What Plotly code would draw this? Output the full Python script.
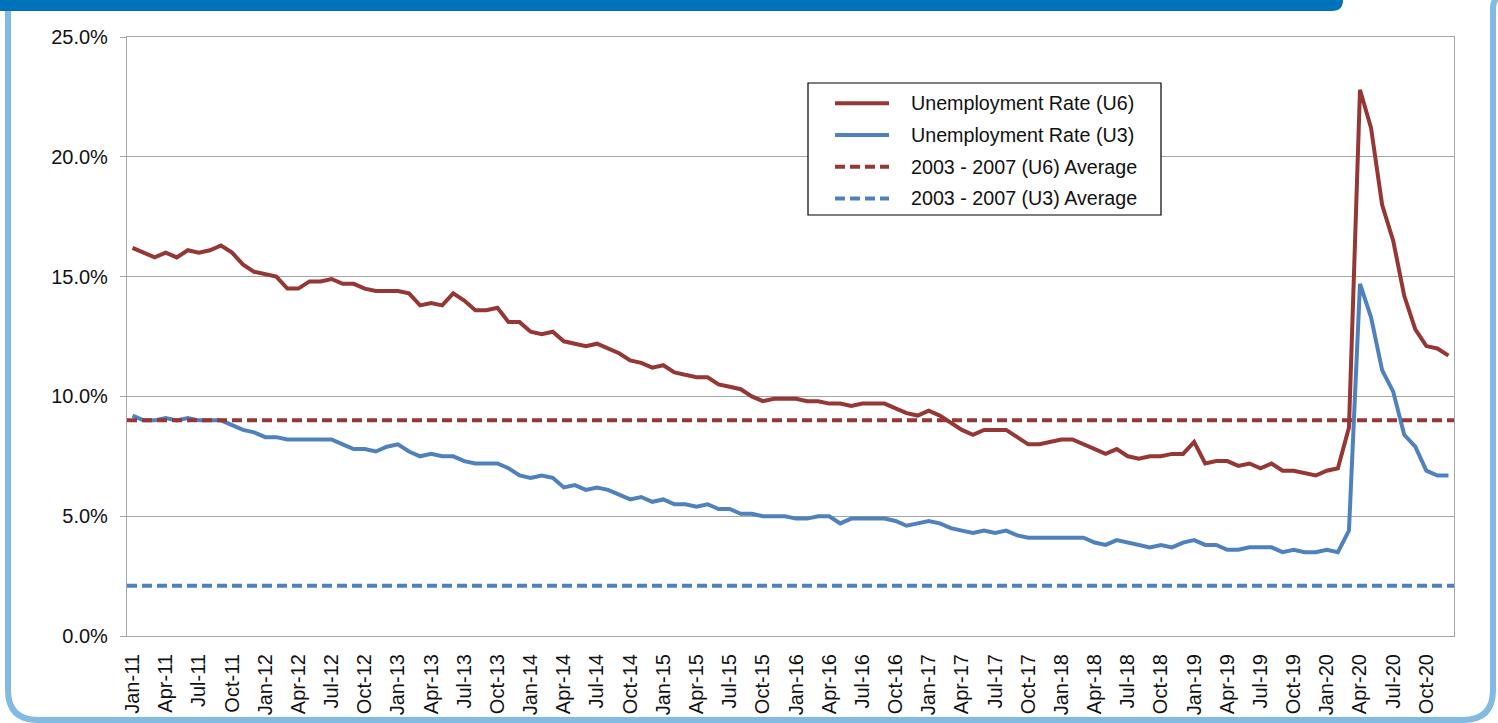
import plotly.graph_objects as go

# ---- data -------------------------------------------------------------
MONTHS = ["Jan", "Feb", "Mar", "Apr", "May", "Jun",
          "Jul", "Aug", "Sep", "Oct", "Nov", "Dec"]
YEARS = [11, 12, 13, 14, 15, 16, 17, 18, 19, 20]
categories = [f"{m}-{y}" for y in YEARS for m in MONTHS]
tick_labels = categories[::3]

u6_rate = [
    16.2, 16.0, 15.8, 16.0, 15.8, 16.1, 16.0, 16.1, 16.3, 16.0, 15.5, 15.2,  # 2011
    15.1, 15.0, 14.5, 14.5, 14.8, 14.8, 14.9, 14.7, 14.7, 14.5, 14.4, 14.4,  # 2012
    14.4, 14.3, 13.8, 13.9, 13.8, 14.3, 14.0, 13.6, 13.6, 13.7, 13.1, 13.1,  # 2013
    12.7, 12.6, 12.7, 12.3, 12.2, 12.1, 12.2, 12.0, 11.8, 11.5, 11.4, 11.2,  # 2014
    11.3, 11.0, 10.9, 10.8, 10.8, 10.5, 10.4, 10.3, 10.0, 9.8, 9.9, 9.9,     # 2015
    9.9, 9.8, 9.8, 9.7, 9.7, 9.6, 9.7, 9.7, 9.7, 9.5, 9.3, 9.2,              # 2016
    9.4, 9.2, 8.9, 8.6, 8.4, 8.6, 8.6, 8.6, 8.3, 8.0, 8.0, 8.1,              # 2017
    8.2, 8.2, 8.0, 7.8, 7.6, 7.8, 7.5, 7.4, 7.5, 7.5, 7.6, 7.6,              # 2018
    8.1, 7.2, 7.3, 7.3, 7.1, 7.2, 7.0, 7.2, 6.9, 6.9, 6.8, 6.7,              # 2019
    6.9, 7.0, 8.7, 22.8, 21.2, 18.0, 16.5, 14.2, 12.8, 12.1, 12.0, 11.7,     # 2020
]

u3_rate = [
    9.2, 9.0, 9.0, 9.1, 9.0, 9.1, 9.0, 9.0, 9.0, 8.8, 8.6, 8.5,              # 2011
    8.3, 8.3, 8.2, 8.2, 8.2, 8.2, 8.2, 8.0, 7.8, 7.8, 7.7, 7.9,              # 2012
    8.0, 7.7, 7.5, 7.6, 7.5, 7.5, 7.3, 7.2, 7.2, 7.2, 7.0, 6.7,              # 2013
    6.6, 6.7, 6.6, 6.2, 6.3, 6.1, 6.2, 6.1, 5.9, 5.7, 5.8, 5.6,              # 2014
    5.7, 5.5, 5.5, 5.4, 5.5, 5.3, 5.3, 5.1, 5.1, 5.0, 5.0, 5.0,              # 2015
    4.9, 4.9, 5.0, 5.0, 4.7, 4.9, 4.9, 4.9, 4.9, 4.8, 4.6, 4.7,              # 2016
    4.8, 4.7, 4.5, 4.4, 4.3, 4.4, 4.3, 4.4, 4.2, 4.1, 4.1, 4.1,              # 2017
    4.1, 4.1, 4.1, 3.9, 3.8, 4.0, 3.9, 3.8, 3.7, 3.8, 3.7, 3.9,              # 2018
    4.0, 3.8, 3.8, 3.6, 3.6, 3.7, 3.7, 3.7, 3.5, 3.6, 3.5, 3.5,              # 2019
    3.6, 3.5, 4.4, 14.7, 13.3, 11.1, 10.2, 8.4, 7.9, 6.9, 6.7, 6.7,          # 2020
]

u6_avg_2003_2007 = 9.0
u3_avg_2003_2007 = 2.1

series_names = [
    "Unemployment Rate (U6)",
    "Unemployment Rate (U3)",
    "2003 - 2007 (U6) Average",
    "2003 - 2007 (U3) Average",
]
y_ticks = [0, 5, 10, 15, 20, 25]

# ---- styling ----------------------------------------------------------
RED = "#953735"
BLUE = "#4F81BD"
GRID = "#A6A6A6"
FONT = "Liberation Sans, Arial, Helvetica, sans-serif"
TEXT = "#111111"
HEADER = "#0072BC"
FRAME = "#82BBE2"
LW = 4
DASH = "10px,5px"

W, H = 1498, 723
PL, PR, PT, PB = 127, 1454, 37, 636   # plot area in page pixels


def fx(px):
    return (px - PL) / (PR - PL)


def fy(py):
    return (PB - py) / (PB - PT)


fig = go.Figure()

fig.add_trace(go.Scatter(x=categories, y=u6_rate, mode="lines",
                         name=series_names[0], showlegend=False,
                         line=dict(color=RED, width=LW)))
fig.add_trace(go.Scatter(x=categories, y=u3_rate, mode="lines",
                         name=series_names[1], showlegend=False,
                         line=dict(color=BLUE, width=LW)))

# long-run averages span the whole plotting width
fig.add_hline(y=u6_avg_2003_2007, line=dict(color=RED, width=LW, dash=DASH))
fig.add_hline(y=u3_avg_2003_2007, line=dict(color=BLUE, width=LW, dash=DASH))

shapes = []

# page frame: light-blue rounded border and the blue header strip
r = 30
x0, x1, y1 = 8, 1493, 720
frame_path = (
    f"M {fx(x0)} {fy(-5)} L {fx(x0)} {fy(y1 - r)} "
    f"Q {fx(x0)} {fy(y1)} {fx(x0 + r)} {fy(y1)} "
    f"L {fx(x1 - r)} {fy(y1)} "
    f"Q {fx(x1)} {fy(y1)} {fx(x1)} {fy(y1 - r)} "
    f"L {fx(x1)} {fy(8)} Q {fx(x1)} {fy(0)} {fx(x1 + 6)} {fy(-4)}"
)
shapes.append(dict(type="path", xref="paper", yref="paper", path=frame_path,
                   line=dict(color=FRAME, width=6), layer="below"))

hr = 11
header_path = (
    f"M {fx(-5)} {fy(-5)} L {fx(1343)} {fy(-5)} L {fx(1343)} {fy(11 - hr)} "
    f"Q {fx(1343)} {fy(11)} {fx(1343 - hr)} {fy(11)} "
    f"L {fx(-5)} {fy(11)} Z"
)
shapes.append(dict(type="path", xref="paper", yref="paper", path=header_path,
                   fillcolor=HEADER, line=dict(width=0), layer="below"))

# legend box
LX0, LX1, LY0, LY1 = 808, 1161, 83, 215
shapes.append(dict(type="rect", xref="paper", yref="paper",
                   x0=fx(LX0), x1=fx(LX1), y0=fy(LY1), y1=fy(LY0),
                   fillcolor="white", line=dict(color="#000000", width=1.2)))
legend_styles = [(RED, "solid"), (BLUE, "solid"), (RED, DASH), (BLUE, DASH)]
annotations = []
for k, (name, (col, dash)) in enumerate(zip(series_names, legend_styles)):
    yy = 103.3 + k * 31.7
    shapes.append(dict(type="line", xref="paper", yref="paper",
                       x0=fx(835), x1=fx(889), y0=fy(yy), y1=fy(yy),
                       line=dict(color=col, width=LW, dash=dash)))
    annotations.append(dict(xref="paper", yref="paper", x=fx(909), y=fy(yy),
                            xanchor="left", yanchor="middle", showarrow=False,
                            text=name, font=dict(family=FONT, size=19.7, color=TEXT)))

fig.update_layout(
    width=W, height=H,
    margin=dict(l=PL, r=W - PR, t=PT, b=H - PB),
    paper_bgcolor="white", plot_bgcolor="white",
    font=dict(family=FONT, size=20, color=TEXT),
    shapes=list(fig.layout.shapes) + shapes,
    annotations=annotations,
    showlegend=False,
)

fig.update_xaxes(
    type="category", categoryorder="array", categoryarray=categories,
    range=[-0.5, len(categories) - 0.5],
    tickmode="array", tickvals=tick_labels, ticktext=tick_labels,
    tickangle=-90, ticks="", ticklabelstandoff=9, automargin=False,
    showgrid=False, showline=True, linecolor=GRID, linewidth=1.2,
    mirror=True, zeroline=False,
    tickfont=dict(family=FONT, size=20, color=TEXT),
)
fig.update_yaxes(
    range=[0, 25], tickmode="array", tickvals=y_ticks,
    ticktext=[f"{v:.1f}%" for v in y_ticks],
    ticks="outside", ticklen=6, tickcolor=GRID, tickwidth=1.2,
    ticklabelstandoff=8, automargin=False,
    showgrid=True, gridcolor=GRID, gridwidth=1.2,
    showline=True, linecolor=GRID, linewidth=1.2, mirror=True,
    zeroline=False,
    tickfont=dict(family=FONT, size=20, color=TEXT),
)

fig.write_html("out.html")
